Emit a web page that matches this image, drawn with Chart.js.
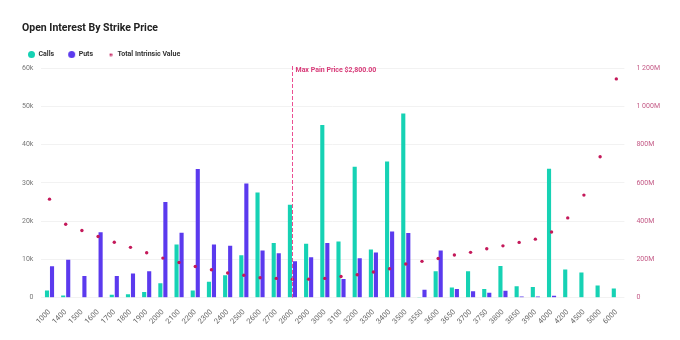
<!DOCTYPE html>
<html>
<head>
<meta charset="utf-8">
<script src="https://cdn.jsdelivr.net/npm/chart.js@4"></script>
<style>
  html, body { margin: 0; padding: 0; background: #fff; }
  #wrap { width: 680px; height: 340px; }
</style>
</head>
<body>
<div id="wrap"><canvas id="oiChart"></canvas></div>
<script>
const strikes = ["1000","1400","1500","1600","1700","1800","1900","2000","2100","2200","2300","2400","2500","2600","2700","2800","2900","3000","3100","3200","3300","3400","3500","3550","3600","3650","3700","3750","3800","3850","3900","4000","4200","4500","5000","6000"];
const calls = [1900,600,0,0,800,900,1500,3800,13900,1900,4200,5900,11100,27500,14300,24300,14100,45100,14700,34200,12600,35600,48100,200,6900,2700,6900,2300,8300,3000,2800,33700,7400,6600,3200,2400];
const puts = [8200,9900,5700,17100,5700,6300,6900,25000,17000,33600,13900,13600,29800,12300,11600,9500,10600,14300,4900,10300,11800,17300,16900,2100,12300,2300,1700,1300,1800,300,300,500,0,0,0,0];
const intrinsic = [515,384,351,320,290,263,235,207,184,163,146,129,117,104,101,97,97,101,111,120,134,151,176,190,205,223,237,256,271,289,306,343,417,536,736,1143].map(v => v * 1e6);
const maxPain = "2800";

const callColor = "#16d2b4";
const putColor = "#5b3aee";
const dotColor = "#c4195a";
const pinkText = "#c45a86";

// small canvases used as legend markers
function dot(r, color) {
  const c = document.createElement("canvas");
  c.width = c.height = r * 2 + 2;
  const g = c.getContext("2d");
  g.fillStyle = color;
  g.beginPath();
  g.arc(r + 1, r + 1, r, 0, Math.PI * 2);
  g.fill();
  return c;
}
const legendMarks = [dot(3.5, callColor), dot(3.5, putColor), dot(1.3, dotColor)];

function fmtMillions(v) {
  const m = Math.round(v / 1e6);
  return String(m).replace(/\B(?=(\d{3})+(?!\d))/g, " ") + (m === 0 ? "" : "M");
}

// title drawn by hand so it can sit further in than the legend padding allows
const titlePlugin = {
  id: "pageTitle",
  afterDraw(chart) {
    const { ctx } = chart;
    ctx.save();
    ctx.fillStyle = "#222";
    ctx.font = "bold 10.5px Roboto";
    ctx.textBaseline = "middle";
    ctx.fillText("Open Interest By Strike Price", 22, 28);
    ctx.restore();
  }
};

// dashed max pain marker
const maxPainPlugin = {
  id: "maxPain",
  afterDatasetsDraw(chart) {
    const { ctx, chartArea, scales } = chart;
    const x = Math.round(scales.x.getPixelForValue(strikes.indexOf(maxPain))) + 0.5;
    ctx.save();
    ctx.strokeStyle = "#ec4f92";
    ctx.lineWidth = 1;
    ctx.setLineDash([4, 2]);
    ctx.beginPath();
    ctx.moveTo(x, chartArea.top - 2);
    ctx.lineTo(x, chartArea.bottom);
    ctx.stroke();
    ctx.setLineDash([]);
    ctx.fillStyle = "#d83a78";
    ctx.font = "bold 7px Roboto";
    ctx.textBaseline = "middle";
    ctx.fillText("Max Pain Price $2,800.00", x + 3, chartArea.top + 2);
    ctx.restore();
  }
};

Chart.defaults.font.family = "Roboto";

new Chart(document.getElementById("oiChart"), {
  type: "bar",
  data: {
    labels: strikes,
    datasets: [
      { label: "Calls", data: calls, backgroundColor: callColor, categoryPercentage: 0.62, barPercentage: 0.82, yAxisID: "y", order: 2 },
      { label: "Puts", data: puts, backgroundColor: putColor, categoryPercentage: 0.62, barPercentage: 0.82, yAxisID: "y", order: 2 },
      { type: "line", label: "Total Intrinsic Value", data: intrinsic, showLine: false, yAxisID: "y1",
        pointRadius: 1.7, pointHoverRadius: 2, pointBackgroundColor: dotColor, pointBorderWidth: 0, backgroundColor: dotColor, order: 1 }
    ]
  },
  options: {
    responsive: true,
    maintainAspectRatio: false,
    animation: false,
    layout: { padding: { left: 14, right: 8, top: 37, bottom: 12 } },
    plugins: {
      title: { display: false },
      legend: {
        align: "start",
        labels: {
          usePointStyle: true, boxWidth: 7, boxHeight: 7, padding: 14,
          color: "#333", font: { size: 7, weight: "bold" },
          generateLabels(chart) {
            return chart.data.datasets.map((ds, i) => ({
              text: ds.label, pointStyle: legendMarks[i], datasetIndex: i,
              fillStyle: "transparent", strokeStyle: "transparent", lineWidth: 0, fontColor: "#333"
            }));
          }
        }
      },
      tooltip: { enabled: false }
    },
    scales: {
      x: {
        grid: { display: false }, border: { display: false },
        ticks: { autoSkip: false, maxRotation: 45, minRotation: 45, color: "#666", font: { size: 7.5 }, padding: 2 }
      },
      y: {
        position: "left", min: 0, max: 60000, border: { display: false },
        grid: { color: "#f2f2f2", drawTicks: false },
        ticks: { stepSize: 10000, color: "#777", font: { size: 7 }, padding: 8,
          callback: v => v === 0 ? "0" : (v / 1000) + "k" }
      },
      y1: {
        position: "right", min: 0, max: 1200e6, border: { display: false },
        grid: { drawOnChartArea: false, drawTicks: false },
        ticks: { stepSize: 200e6, color: pinkText, font: { size: 7 }, padding: 12, callback: fmtMillions }
      }
    }
  },
  plugins: [titlePlugin, maxPainPlugin]
});
</script>
</body>
</html>
